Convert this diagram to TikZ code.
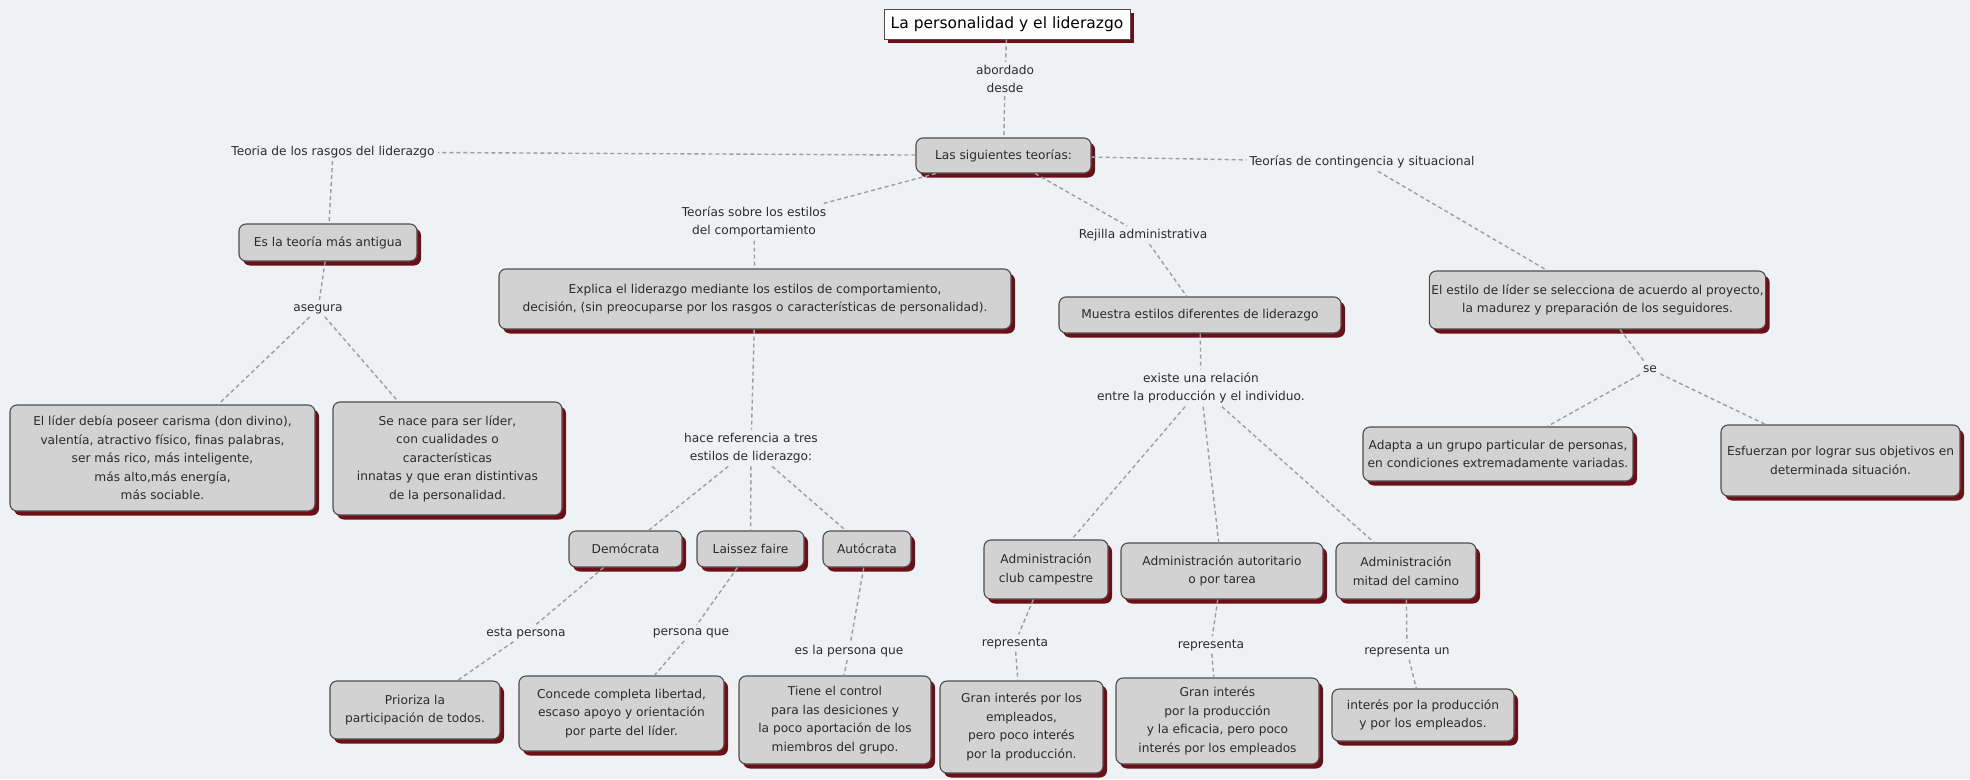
\documentclass[tikz,border=0pt]{standalone}
\usepackage{fontspec}
\setmainfont{DejaVu Sans}
\usetikzlibrary{shadows}
\definecolor{bgcol}{HTML}{EEF2F5}
\definecolor{boxfill}{HTML}{D2D2D2}
\definecolor{boxline}{HTML}{4D4D4D}
\definecolor{shadowred}{HTML}{6E0E16}
\definecolor{linkgray}{HTML}{9A9EA2}
\definecolor{txtcol}{HTML}{2B2B2B}
\newcommand\cmtext{\fontsize{12.2}{18.5}\selectfont}
\newcommand\cmtitle{\fontsize{15.5}{18}\selectfont}
\tikzset{
  concept/.style={draw=boxline, line width=1.1pt, rounded corners=7pt, fill=boxfill,
    align=center, text=txtcol, font=\cmtext, inner sep=2pt,
    drop shadow={fill=shadowred, opacity=1, shadow xshift=4pt, shadow yshift=-4.5pt}},
  titlebox/.style={draw=boxline, line width=0.9pt, fill=white, align=center, text=black,
    font=\cmtitle, inner sep=2pt,
    drop shadow={fill=shadowred, opacity=1, shadow xshift=4pt, shadow yshift=-4pt}},
  linkph/.style={align=center, text=txtcol, font=\cmtext, inner sep=3pt},
  conn/.style={draw=linkgray, line width=1.4pt, dash pattern=on 4pt off 3pt},
}
\begin{document}
\begin{tikzpicture}[x=1pt,y=-1pt]
\fill[bgcol] (0,0) rectangle (1970,779);
\useasboundingbox (0,0) rectangle (1970,779);

% concepts
\node[titlebox, minimum width=246pt, minimum height=30pt] (title) at (1007,24) {La personalidad y el liderazgo};
\node[concept, minimum width=175pt, minimum height=35pt] (sig) at (1003.5,155.5) {Las siguientes teorías:};
\node[concept, minimum width=178pt, minimum height=37pt] (antigua) at (328,242.5) {Es la teoría más antigua};
\node[concept, minimum width=305pt, minimum height=106pt] (lider) at (162.5,458) {El líder debía poseer carisma (don divino),\\ valentía, atractivo físico, finas palabras,\\ ser más rico, más inteligente,\\ más alto,más energía,\\ más sociable.};
\node[concept, minimum width=229pt, minimum height=113pt] (nace) at (447.5,458.5) {Se nace para ser líder,\\ con cualidades o\\ características\\ innatas y que eran distintivas\\ de la personalidad.};
\node[concept, minimum width=512pt, minimum height=60pt] (explica) at (755,299) {Explica el liderazgo mediante los estilos de comportamiento,\\ decisión, (sin preocuparse por los rasgos o características de personalidad).};
\node[concept, minimum width=282pt, minimum height=36pt] (muestra) at (1200,315) {Muestra estilos diferentes de liderazgo};
\node[concept, minimum width=323pt, minimum height=58pt] (estilo) at (1597.5,300) {El estilo de líder se selecciona de acuerdo al proyecto,\\ la madurez y preparación de los seguidores.};
\node[concept, minimum width=270pt, minimum height=54pt] (adapta) at (1498,454) {Adapta a un grupo particular de personas,\\ en condiciones extremadamente variadas.};
\node[concept, minimum width=239pt, minimum height=71pt] (esfuerzan) at (1840.5,460.5) {Esfuerzan por lograr sus objetivos en\\ determinada situación.};
\node[concept, minimum width=113pt, minimum height=36pt] (democrata) at (625.5,549) {Demócrata};
\node[concept, minimum width=107pt, minimum height=36pt] (laissez) at (750.5,549) {Laissez faire};
\node[concept, minimum width=88pt, minimum height=36pt] (autocrata) at (867,549) {Autócrata};
\node[concept, minimum width=124pt, minimum height=59pt] (club) at (1046,569.5) {Administración\\ club campestre};
\node[concept, minimum width=202pt, minimum height=56pt] (autoritario) at (1222,571) {Administración autoritario\\ o por tarea};
\node[concept, minimum width=140pt, minimum height=56pt] (mitad) at (1406,571) {Administración\\ mitad del camino};
\node[concept, minimum width=170pt, minimum height=58pt] (prioriza) at (415,710) {Prioriza la\\ participación de todos.};
\node[concept, minimum width=205pt, minimum height=75pt] (concede) at (621.5,713.5) {Concede completa libertad,\\ escaso apoyo y orientación\\ por parte del líder.};
\node[concept, minimum width=192pt, minimum height=88pt] (tiene) at (835,720) {Tiene el control\\ para las desiciones y\\ la poco aportación de los\\ miembros del grupo.};
\node[concept, minimum width=163pt, minimum height=92pt] (granemp) at (1021.5,727) {Gran interés por los\\ empleados,\\ pero poco interés\\ por la producción.};
\node[concept, minimum width=203pt, minimum height=86pt] (granprod) at (1217.5,721) {Gran interés\\ por la producción\\ y la eficacia, pero poco\\ interés por los empleados};
\node[concept, minimum width=182pt, minimum height=52pt] (interes) at (1423,715) {interés por la producción\\ y por los empleados.};

% linking phrases
\node[linkph] (abordado) at (1005,79) {abordado\\ desde};
\node[linkph] (rasgos) at (333,152) {Teoria de los rasgos del liderazgo};
\node[linkph] (contingencia) at (1362,162) {Teorías de contingencia y situacional};
\node[linkph] (estilos) at (754,222) {Teorías sobre los estilos\\ del comportamiento};
\node[linkph] (rejilla) at (1143,235) {Rejilla administrativa};
\node[linkph] (asegura) at (318,309) {asegura};
\node[linkph] (existe) at (1201,388) {existe una relación\\ entre la producción y el individuo.};
\node[linkph] (se) at (1650,369) {se};
\node[linkph] (hace) at (751,448) {hace referencia a tres\\ estilos de liderazgo:};
\node[linkph] (esta) at (526,633) {esta persona};
\node[linkph] (personaque) at (691,633) {persona que};
\node[linkph] (eslapersona) at (849,651) {es la persona que};
\node[linkph] (repA) at (1015,643) {representa};
\node[linkph] (repB) at (1211,645) {representa};
\node[linkph] (repC) at (1407,651) {representa un};

% connectors
\draw[conn] (title) -- (abordado);
\draw[conn] (abordado) -- (sig);
\draw[conn] (sig) -- (rasgos);
\draw[conn] (rasgos) -- (antigua);
\draw[conn] (antigua) -- (asegura);
\draw[conn] (asegura) -- (lider);
\draw[conn] (asegura) -- (nace);
\draw[conn] (sig) -- (estilos);
\draw[conn] (estilos) -- (explica);
\draw[conn] (explica) -- (hace);
\draw[conn] (hace) -- (democrata);
\draw[conn] (hace) -- (laissez);
\draw[conn] (hace) -- (autocrata);
\draw[conn] (democrata) -- (esta);
\draw[conn] (esta) -- (prioriza);
\draw[conn] (laissez) -- (personaque);
\draw[conn] (personaque) -- (concede);
\draw[conn] (autocrata) -- (eslapersona);
\draw[conn] (eslapersona) -- (tiene);
\draw[conn] (sig) -- (rejilla);
\draw[conn] (rejilla) -- (muestra);
\draw[conn] (muestra) -- (existe);
\draw[conn] (existe) -- (club);
\draw[conn] (existe) -- (autoritario);
\draw[conn] (existe) -- (mitad);
\draw[conn] (club) -- (repA);
\draw[conn] (repA) -- (granemp);
\draw[conn] (autoritario) -- (repB);
\draw[conn] (repB) -- (granprod);
\draw[conn] (mitad) -- (repC);
\draw[conn] (repC) -- (interes);
\draw[conn] (sig) -- (contingencia);
\draw[conn] (contingencia) -- (estilo);
\draw[conn] (estilo) -- (se);
\draw[conn] (se) -- (adapta);
\draw[conn] (se) -- (esfuerzan);
\end{tikzpicture}
\end{document}
